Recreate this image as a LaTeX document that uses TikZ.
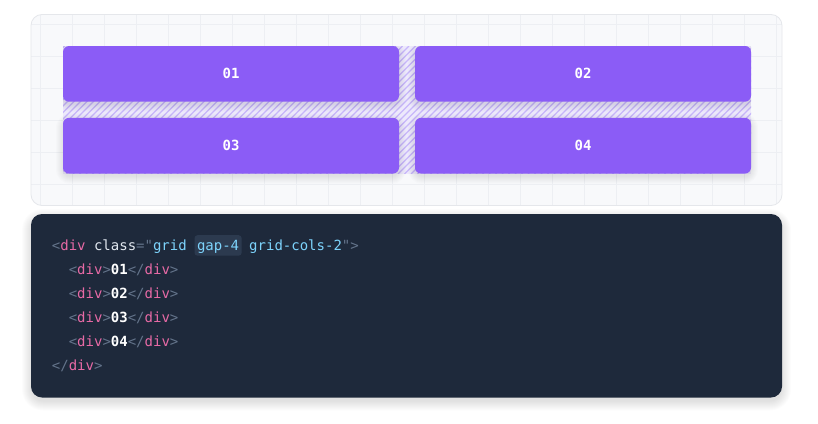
\documentclass[tikz,border=0pt]{standalone}
\usepackage{fontspec}
\setmainfont{DejaVu Sans}
\setmonofont{DejaVu Sans Mono}
\definecolor{panelbg}{HTML}{F8F9FB}
\definecolor{panelborder}{HTML}{E5E7EB}
\definecolor{gridline}{HTML}{EDEFF3}
\definecolor{hatchbg}{HTML}{EDE9FC}
\definecolor{hatchline}{HTML}{C8B7FA}
\definecolor{cellc}{HTML}{8B5CF6}
\definecolor{codebg}{HTML}{1E293B}
\definecolor{hlbg}{HTML}{2C3A4F}
\definecolor{ctag}{HTML}{64748B}
\definecolor{cdiv}{HTML}{E86AA6}
\definecolor{cattr}{HTML}{E2E8F0}
\definecolor{cstr}{HTML}{7DD3FC}
\tikzset{
  cellbox/.style={rectangle, rounded corners=6pt, fill=cellc, minimum width=336pt, minimum height=55.7pt, inner sep=0pt,
    text=white, font=\ttfamily\bfseries\fontsize{14}{16}\selectfont},
  codeline/.style={anchor=base west, inner sep=0pt, font=\ttfamily\fontsize{14}{16}\selectfont, text=cattr},
  hlbox/.style={anchor=base west, fill=hlbg, rounded corners=3pt, inner xsep=2.5pt, inner ysep=2.5pt,
    text height=13pt, text depth=2.5pt, font=\ttfamily\fontsize{14}{16}\selectfont, text=cstr}
}
% soft shadow: x1 y1 x2 y2 radius dy steps opacity
\newcommand{\softshade}[8]{%
  \foreach \s in {1,...,#7} {
    \fill[black, opacity=#8, rounded corners={#5+\s*1pt}]
      (#1-\s+1,#2+#6-\s+1) rectangle (#3+\s-1,#4+#6+\s-1);
  }}
\newcommand{\tg}[1]{\textcolor{ctag}{#1}}
\newcommand{\dv}{\textcolor{cdiv}{div}}
\newcommand{\st}[1]{\textcolor{cstr}{#1}}
\newcommand{\nm}[1]{\textcolor{white}{\bfseries #1}}
\begin{document}
\begin{tikzpicture}[x=1pt,y=-1pt]
\useasboundingbox (0,0) rectangle (818,423);
\fill[white] (0,0) rectangle (818,423);
% top panel
\fill[panelbg] [rounded corners=11pt] (31,14.5) rectangle (782,205.5);
\begin{scope}
  \clip[rounded corners=11pt] (31,14.5) rectangle (782,205.5);
  \foreach \k in {0,...,23} { \draw[gridline, line width=1pt] (40.7+32*\k,14) -- (40.7+32*\k,206); }
  \foreach \k in {0,...,5} { \draw[gridline, line width=1pt] (31,24+32*\k) -- (782,24+32*\k); }
\end{scope}
\draw[panelborder, line width=0.8pt, rounded corners=11pt] (31,14.5) rectangle (782,205.5);
% hatched gap region
\fill[hatchbg] (63,46) rectangle (751,173.7);
\begin{scope}
  \clip (63,46) rectangle (751,173.7);
  \foreach \k in {0,...,120} { \draw[hatchline, line width=1.3pt] (-70+6.5*\k,174) -- (-70+6.5*\k+128,46); }
  \softshade{63}{46}{399}{101.7}{6pt}{3}{8}{0.012}
  \softshade{415}{46}{751}{101.7}{6pt}{3}{8}{0.012}
\end{scope}
\softshade{63}{117.7}{399}{173.7}{6pt}{3}{8}{0.012}
\softshade{415}{117.7}{751}{173.7}{6pt}{3}{8}{0.012}
% cells
\node[cellbox] (c1) at (231,73.85) {01};
\node[cellbox] (c2) at (583,73.85) {02};
\node[cellbox] (c3) at (231,145.7) {03};
\node[cellbox] (c4) at (583,145.7) {04};
% code panel
\softshade{31}{214}{782}{397.5}{11pt}{4}{10}{0.012}
\fill[codebg, rounded corners=11pt] (31,214) rectangle (782,397.5);
\node[codeline] (l1a) at (51.7,250.7) {\tg{<}\dv\ class\tg{="}\st{grid}};
\node[hlbox] (hl) at (194.3,250.7) {gap-4};
\node[codeline] (l1b) at (240.6,250.7) {\ \st{grid-cols-2}\tg{">}};
\node[codeline] (l2) at (68.6,274.7) {\tg{<}\dv\tg{>}\nm{01}\tg{</}\dv\tg{>}};
\node[codeline] (l3) at (68.6,298.7) {\tg{<}\dv\tg{>}\nm{02}\tg{</}\dv\tg{>}};
\node[codeline] (l4) at (68.6,322.7) {\tg{<}\dv\tg{>}\nm{03}\tg{</}\dv\tg{>}};
\node[codeline] (l5) at (68.6,346.7) {\tg{<}\dv\tg{>}\nm{04}\tg{</}\dv\tg{>}};
\node[codeline] (l6) at (51.7,370.7) {\tg{</}\dv\tg{>}};
\end{tikzpicture}
\end{document}
